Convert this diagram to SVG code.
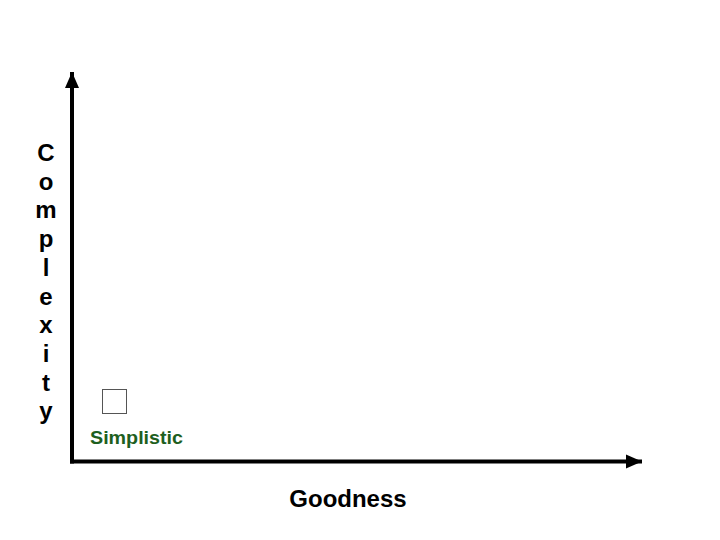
<svg xmlns="http://www.w3.org/2000/svg" width="720" height="540" viewBox="0 0 720 540">
<style>
.lbl{font-family:"Liberation Sans",Arial,sans-serif;font-weight:bold;fill:#000}
.v{font-size:24px;text-anchor:middle}
.axis{stroke:#000;stroke-width:4;fill:none}
</style>
<defs>
<marker id="ah" markerUnits="userSpaceOnUse" markerWidth="16" markerHeight="16" viewBox="0 0 16 16" refX="16" refY="8" orient="auto">
<path d="M0,1 L16,8 L0,15 Z" fill="#000"/>
</marker>
</defs>
<rect width="720" height="540" fill="#fff"/>
<g id="connectors">
<line class="axis" x1="72" y1="463.5" x2="72" y2="72" marker-end="url(#ah)"/>
<line class="axis" x1="70" y1="461.5" x2="642" y2="461.5" marker-end="url(#ah)"/>
</g>
<g id="y-label" class="lbl v">
<text x="46" y="161">C</text>
<text x="46" y="189.7">o</text>
<text x="46" y="218.4">m</text>
<text x="46" y="247.1">p</text>
<text x="46" y="275.8">l</text>
<text x="46" y="304.5">e</text>
<text x="46" y="333.2">x</text>
<text x="46" y="361.9">i</text>
<text x="46" y="390.6">t</text>
<text x="46" y="419.3">y</text>
</g>
<g id="x-label">
<text class="lbl" x="348" y="507" font-size="24" text-anchor="middle">Goodness</text>
</g>
<g id="simplistic">
<rect x="102.5" y="389.5" width="24" height="24" fill="#fff" stroke="#555" stroke-width="1"/>
<text class="lbl" x="90" y="444" font-size="19" style="fill:#1e5f1e" textLength="93" lengthAdjust="spacingAndGlyphs">Simplistic</text>
</g>
</svg>
